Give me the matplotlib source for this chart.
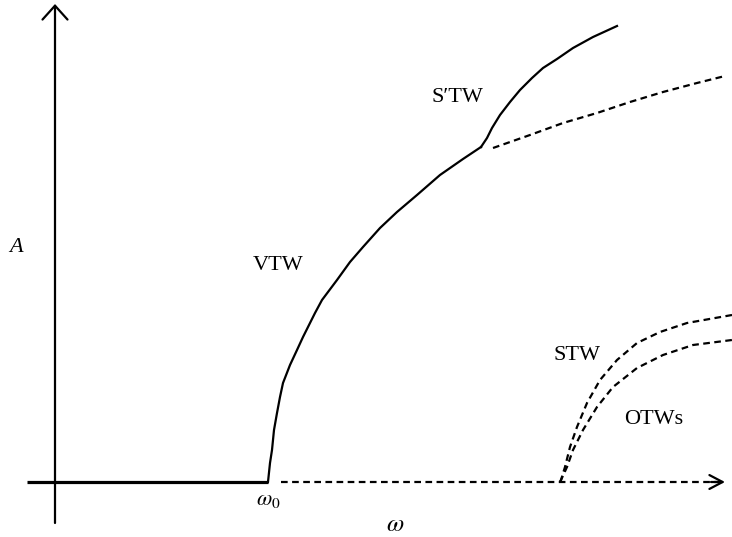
import numpy as np
import matplotlib
matplotlib.use("Agg")
import matplotlib.pyplot as plt

plt.rcParams['font.family'] = ['Liberation Serif', 'DejaVu Serif']
plt.rcParams['mathtext.fontset'] = 'stix'

# schematic bifurcation diagram, omega (x) vs amplitude A (y), arbitrary units
omega0 = 2.12

# trivial branch: stable (solid) up to omega0, unstable (dashed) beyond
trivial_solid_w = [-0.29, omega0]
trivial_dash_w = [2.25, 6.62]

# VTW branch (stable part up to the kink)
vtw_w = [2.12, 2.14, 2.16, 2.18, 2.21, 2.24, 2.27, 2.34, 2.41, 2.47, 2.52, 2.59,
         2.66, 2.81, 2.94, 3.07, 3.24, 3.41, 3.61, 3.84, 4.07, 4.25]
vtw_A = [0.00, 0.19, 0.32, 0.52, 0.69, 0.85, 0.99, 1.17, 1.32, 1.45, 1.55, 1.69,
         1.82, 2.02, 2.20, 2.35, 2.54, 2.70, 2.87, 3.07, 3.23, 3.35]

# VTW continued, unstable
vtw_unst_w = [4.37, 4.74, 5.07, 5.41, 5.74, 6.07, 6.41, 6.69]
vtw_unst_A = [3.34, 3.47, 3.59, 3.69, 3.80, 3.90, 3.99, 4.06]

# S'TW branch
sptw_w = [4.25, 4.31, 4.36, 4.44, 4.54, 4.64, 4.76, 4.87, 5.01, 5.17, 5.37, 5.61]
sptw_A = [3.35, 3.44, 3.54, 3.67, 3.80, 3.92, 4.04, 4.14, 4.23, 4.34, 4.45, 4.56]

# STW and OTWs (both unstable)
stw_w = [5.04, 5.05, 5.09, 5.14, 5.21, 5.31, 5.44, 5.61, 5.81, 6.04, 6.31, 6.76]
stw_A = [0.00, 0.02, 0.15, 0.35, 0.55, 0.79, 1.02, 1.22, 1.39, 1.50, 1.59, 1.67]
otw_w = [5.04, 5.05, 5.11, 5.17, 5.27, 5.41, 5.57, 5.81, 6.07, 6.37, 6.76]
otw_A = [0.00, 0.02, 0.15, 0.32, 0.52, 0.75, 0.95, 1.14, 1.27, 1.37, 1.42]

labels = ["VTW", "S\u2032TW", "STW", "OTWs"]
label_w = [2.22, 4.01, 5.21, 5.98]
label_A = [2.16, 3.84, 1.27, 0.62]

fig = plt.figure(figsize=(7.32, 5.37), dpi=100)
ax = fig.add_axes([0, 0, 1, 1])
ax.set_xlim(-0.56, 6.76)
ax.set_ylim(-0.55, 4.82)
ax.axis('off')

lw = 1.6
dash = (3, 2)
style = dict(color='k', lw=lw, solid_joinstyle='round', dash_joinstyle='round')

# vertical axis with arrow
ax.annotate('', xy=(-0.01, 4.78), xytext=(-0.01, -0.41),
            arrowprops=dict(arrowstyle='->,head_length=1.0,head_width=0.9',
                            lw=lw, color='k', shrinkA=0, shrinkB=0))

# trivial branch / horizontal axis
ax.plot(trivial_solid_w, [0, 0], color='k', lw=2.3, solid_capstyle='butt')
ax.plot(trivial_dash_w, [0, 0], dashes=dash, **style)
ax.annotate('', xy=(6.69, 0), xytext=(6.55, 0),
            arrowprops=dict(arrowstyle='->,head_length=0.95,head_width=0.5',
                            lw=lw, color='k', shrinkA=0, shrinkB=0))

ax.plot(vtw_w, vtw_A, **style)
ax.plot(sptw_w, sptw_A, **style)
ax.plot(vtw_unst_w, vtw_unst_A, dashes=dash, **style)
ax.plot(stw_w, stw_A, dashes=dash, **style)
ax.plot(otw_w, otw_A, dashes=dash, **style)

fs = 16
for lab, w, a in zip(labels, label_w, label_A):
    ax.text(w, a, lab, fontsize=fs, ha='center', va='center')

ax.text(-0.40, 2.35, 'A', fontsize=fs, style='italic', ha='center', va='center')
ax.text(omega0, -0.18, r'$\omega_0$', fontsize=fs, ha='center', va='center')
ax.text(3.39, -0.43, r'$\omega$', fontsize=fs + 2, ha='center', va='center')

fig.savefig('out.png', dpi=100)
